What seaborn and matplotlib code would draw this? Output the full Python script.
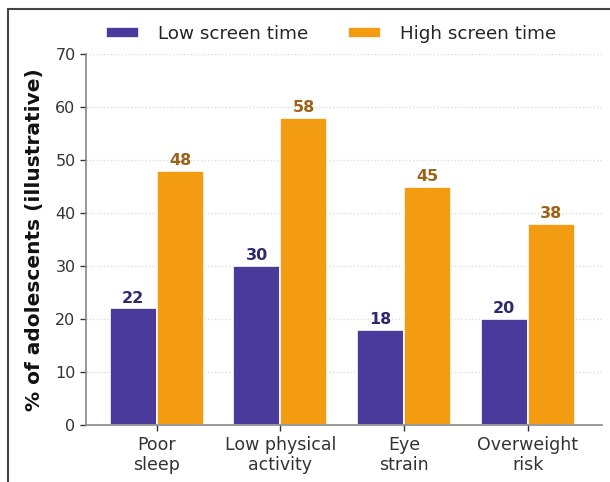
import matplotlib
matplotlib.use("Agg")
import matplotlib.pyplot as plt
from matplotlib.lines import Line2D
import seaborn as sns
import pandas as pd

categories = ["Poor\nsleep", "Low physical\nactivity", "Eye\nstrain", "Overweight\nrisk"]
low_screen = [22, 30, 18, 20]
high_screen = [48, 58, 45, 38]
groups = ["Low screen time", "High screen time"]
colors = ["#4a3a9c", "#f39c12"]
label_colors = ["#2f2a6e", "#9c6418"]

df = pd.DataFrame({
    "category": categories * 2,
    "value": low_screen + high_screen,
    "group": [groups[0]] * len(categories) + [groups[1]] * len(categories),
})

sns.set_theme(style="white")
plt.rcParams["font.family"] = ["DejaVu Sans"]

fig = plt.figure(figsize=(6.1, 4.82), dpi=100)
ax = fig.add_axes([0.141, 0.118, 0.846, 0.77])

sns.barplot(data=df, x="category", y="value", hue="group", palette=colors,
            saturation=1, width=0.76, edgecolor="white", linewidth=1.2, ax=ax,
            legend=True)

for cont, c in zip(ax.containers, label_colors):
    ax.bar_label(cont, fmt="%d", padding=2, color=c, fontsize=11.5, fontweight="bold")

ax.set_ylim(0, 70)
ax.set_xlim(-0.57, 3.6)
ax.set_yticks(range(0, 71, 10))
ax.set_xlabel("")
ax.set_ylabel("% of adolescents (illustrative)", fontsize=14.5, fontweight="bold",
              color="#111111", labelpad=8)
ax.tick_params(axis="both", colors="#333333", length=4, width=1, bottom=True, left=True)
ax.tick_params(axis="y", labelsize=11.5)
ax.tick_params(axis="x", labelsize=12.5)
ax.yaxis.grid(True, linestyle=(0, (1, 1.5)), color="#dddddd", linewidth=1)
ax.set_axisbelow(True)
for s in ["top", "right"]:
    ax.spines[s].set_visible(False)
for s in ["left", "bottom"]:
    ax.spines[s].set_color("#888888")
    ax.spines[s].set_linewidth(1.2)

ax.legend(loc="lower center", bbox_to_anchor=(0.475, 1.0), ncol=2, frameon=False,
          fontsize=13.2, handlelength=1.8, handleheight=0.6, handletextpad=1.0,
          columnspacing=2.2, borderaxespad=0.2)

# thin frame along the top and left edges of the figure
fig.add_artist(Line2D([0.013, 1.0], [0.981, 0.981], transform=fig.transFigure,
                      color="#444444", linewidth=1.5))
fig.add_artist(Line2D([0.013, 0.013], [0.0, 0.981], transform=fig.transFigure,
                      color="#444444", linewidth=1.5))

fig.savefig("out.png", dpi=100)
